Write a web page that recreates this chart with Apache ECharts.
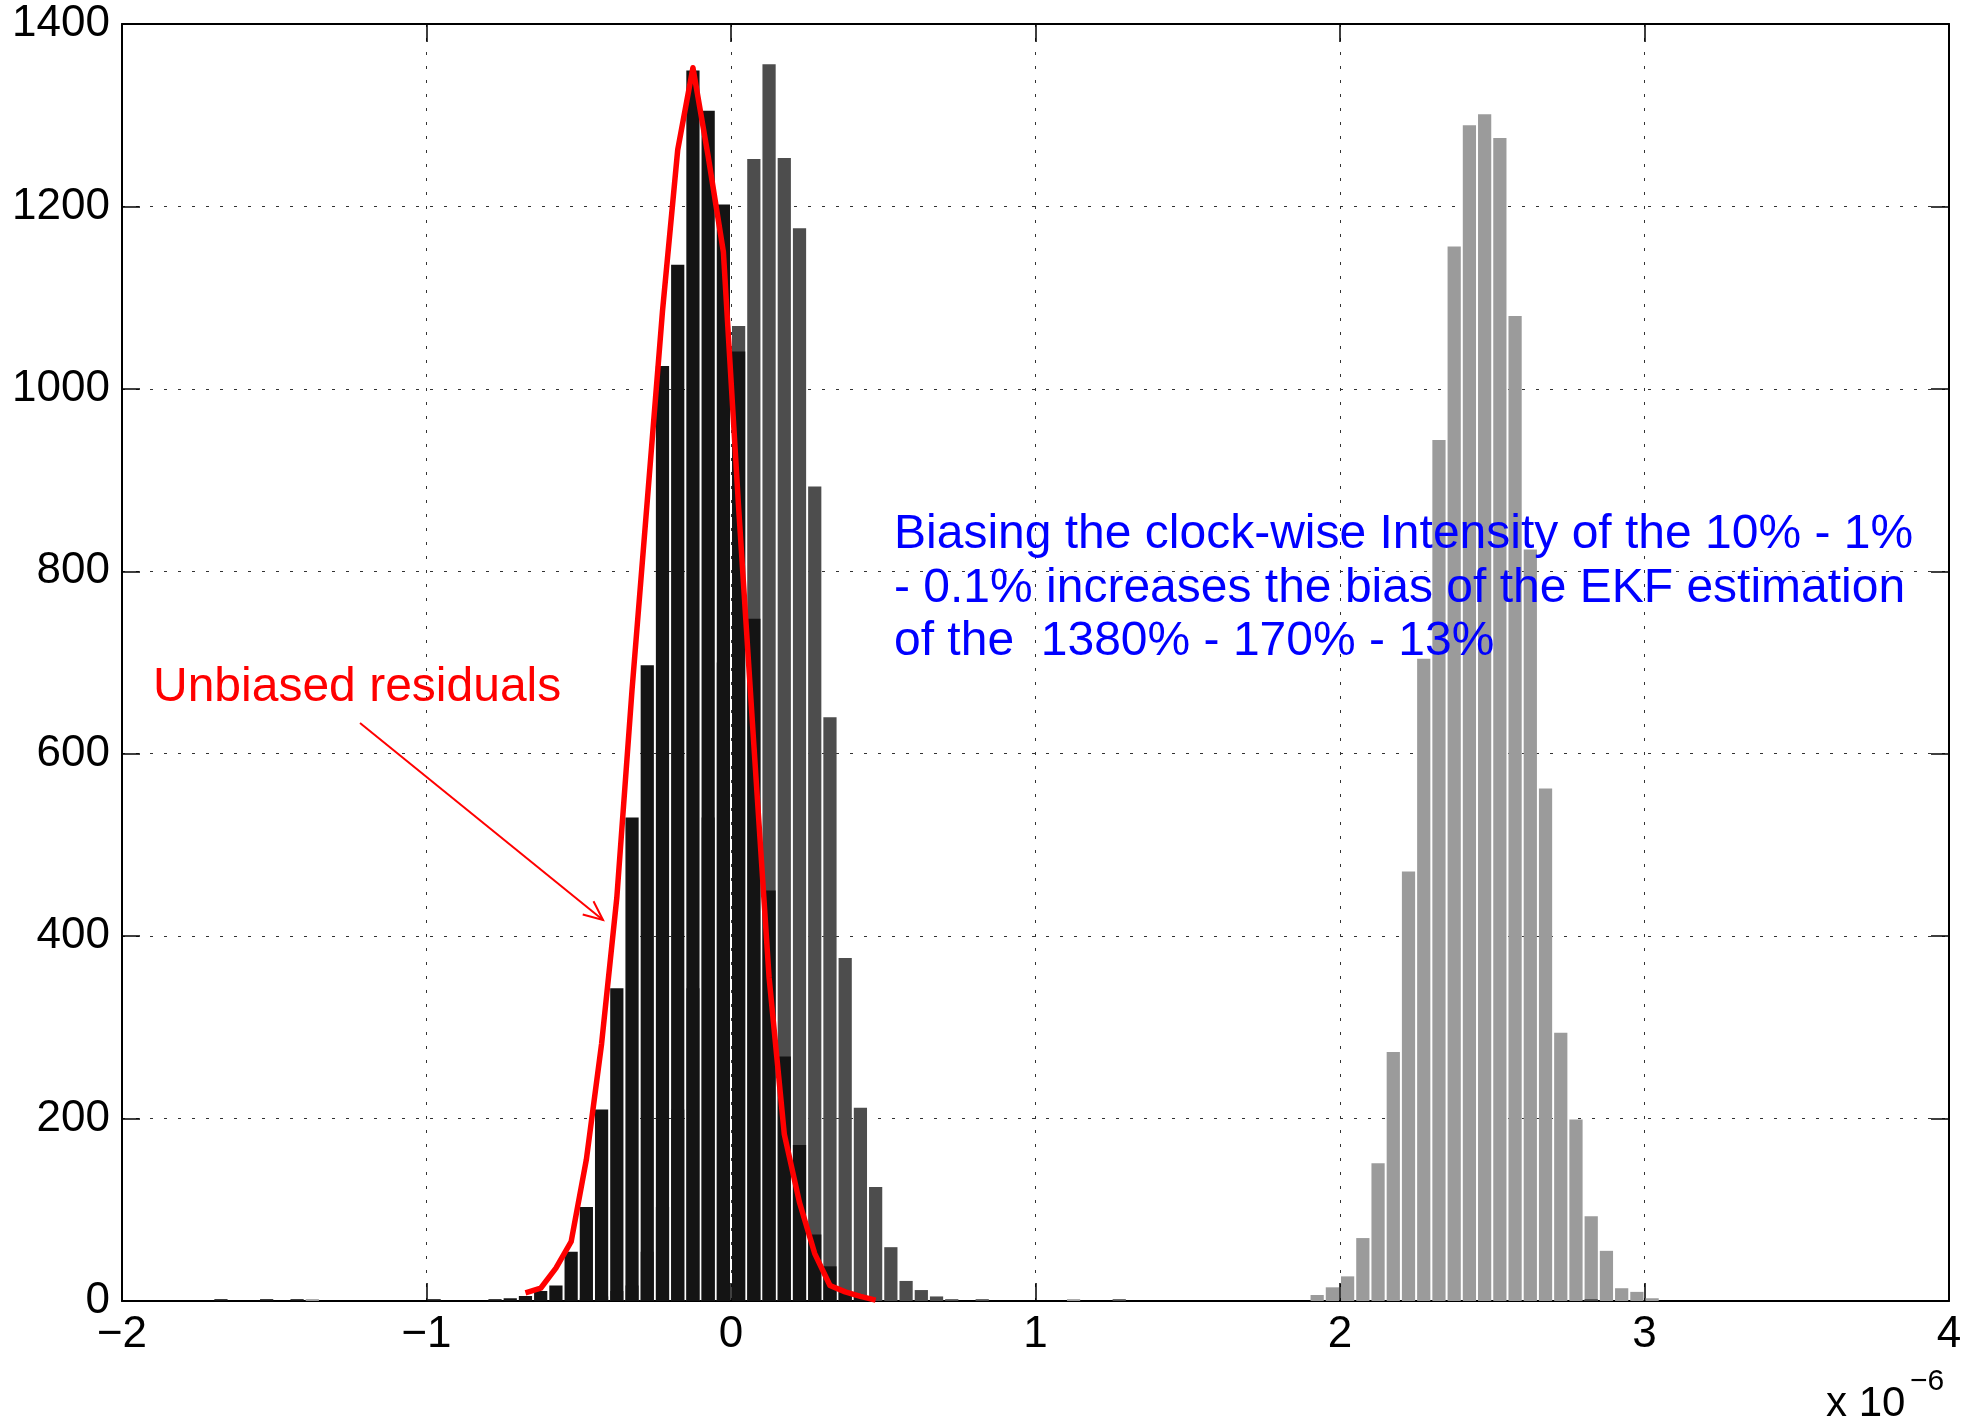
<!DOCTYPE html>
<html>
<head>
<meta charset="utf-8">
<script src="https://cdn.jsdelivr.net/npm/echarts@6/dist/echarts.min.js"></script>
<style>
  html, body { margin: 0; padding: 0; background: #fff; }
  #chart { width: 1968px; height: 1423px; }
</style>
</head>
<body>
<div id="chart"></div>
<script>
// histogram bins, x in units of 1e-6
const binWidth = 0.05

// black: unbiased residuals
const blackCenters = [-1.675, -1.525, -1.425, -0.975, -0.775, -0.725, -0.675, -0.625, -0.575, -0.525, -0.475, -0.425, -0.375,
  -0.325, -0.275, -0.225, -0.175, -0.125, -0.075, -0.025, 0.025, 0.075, 0.125, 0.175, 0.225, 0.275, 0.325, 0.375, 0.425]
const blackCounts = [2, 2, 2, 2, 2, 3, 5.5, 11, 17, 54, 103, 210, 343,
  530, 697, 1025, 1136, 1349, 1305, 1202, 1041, 748, 450, 268, 171, 73, 38, 10, 5]

// dark gray: small bias
const darkCenters = [-0.475, -0.425, -0.375, -0.325, -0.275, -0.225, -0.175, -0.125, -0.075, -0.025, 0.025, 0.075, 0.125,
  0.175, 0.225, 0.275, 0.325, 0.375, 0.425, 0.475, 0.525, 0.575, 0.625, 0.675, 0.725, 0.825, 1.275, 2.825]
const darkCounts = [3, 5, 11, 17, 54, 103, 210, 343, 530, 700, 1069, 1252, 1356,
  1253, 1176, 893, 640, 376, 212, 125, 59, 22, 12, 5, 2, 2, 2, 2]

// light gray: large bias
const lightCenters = [-1.375, 1.125, 1.925, 1.975, 2.025, 2.075, 2.125, 2.175, 2.225, 2.275, 2.325, 2.375, 2.425, 2.475,
  2.525, 2.575, 2.625, 2.675, 2.725, 2.775, 2.825, 2.875, 2.925, 2.975, 3.025]
const lightCounts = [2, 2, 6.6, 15, 27, 69, 151, 273, 471, 704, 944, 1156, 1289, 1301,
  1275, 1080, 824, 562, 294, 199, 93, 55, 14, 10, 3]

// red curve
const redX = [-0.675, -0.625, -0.575, -0.525, -0.475, -0.425, -0.375, -0.325, -0.275, -0.225, -0.175, -0.125,
  -0.075, -0.025, 0.025, 0.075, 0.125, 0.175, 0.225, 0.275, 0.325, 0.375, 0.425, 0.475]
const redY = [9, 14, 36, 65, 155, 282, 442, 670, 877, 1085, 1262, 1352,
  1255, 1150, 870, 610, 355, 183, 108, 52, 17, 10, 5, 1]

const FONT = '"Liberation Sans", Arial, Helvetica, sans-serif'

function pairs(xs, ys) {
  return xs.map((x, i) => [x, ys[i]])
}

function histItem(color) {
  return function (params, api) {
    const x = api.value(0)
    const y = api.value(1)
    const tl = api.coord([x - binWidth / 2, y])
    const br = api.coord([x + binWidth / 2, 0])
    return {
      type: 'rect',
      shape: { x: tl[0] + 1, y: tl[1], width: br[0] - tl[0] - 2, height: br[1] - tl[1] },
      style: { fill: color }
    }
  }
}

const gridLine = { show: true, lineStyle: { color: '#333', width: 1, type: [3, 11] } }
const frame = { show: true, onZero: false, lineStyle: { color: '#000', width: 2 } }
const tick = { show: true, inside: true, length: 18, lineStyle: { color: '#000', width: 1.5 } }
const minus = v => String(v).replace('-', '\u2212')

const myChart = echarts.init(document.getElementById('chart'))

let option = {
  animation: false,
  backgroundColor: '#fff',
  grid: { left: 122, right: 19, top: 24, bottom: 122, outerBoundsMode: 'none' },
  xAxis: [{
    type: 'value', min: -2, max: 4, interval: 1,
    axisLine: frame, axisTick: tick, splitLine: gridLine,
    axisLabel: { color: '#000', fontSize: 44, fontFamily: FONT, margin: 12, formatter: minus }
  }, {
    type: 'value', position: 'top', min: -2, max: 4, interval: 1,
    axisLine: frame, axisTick: tick, splitLine: { show: false }, axisLabel: { show: false }
  }],
  yAxis: [{
    type: 'value', min: 0, max: 1400, interval: 200,
    axisLine: frame, axisTick: tick, splitLine: gridLine,
    axisLabel: { color: '#000', fontSize: 44, fontFamily: FONT, margin: 12, formatter: v => String(v) }
  }, {
    type: 'value', position: 'right', min: 0, max: 1400, interval: 200,
    axisLine: frame, axisTick: tick, splitLine: { show: false }, axisLabel: { show: false }
  }],
  series: [
    { name: 'large bias', type: 'custom', clip: true, z: 2, renderItem: histItem('#9b9b9b'), data: pairs(lightCenters, lightCounts) },
    { name: 'small bias', type: 'custom', clip: true, z: 3, renderItem: histItem('#4d4d4d'), data: pairs(darkCenters, darkCounts) },
    { name: 'unbiased', type: 'custom', clip: true, z: 4, renderItem: histItem('#141414'), data: pairs(blackCenters, blackCounts) },
    {
      name: 'fit', type: 'line', z: 5, symbol: 'none', smooth: false,
      lineStyle: { color: '#ff0000', width: 5.5, join: 'round' },
      data: pairs(redX, redY)
    }
  ]
}
myChart.setOption(option)

// annotations (pixel positions)
const arrowStart = [360, 723]
const arrowTip = [603, 920]
const ang = Math.atan2(arrowTip[1] - arrowStart[1], arrowTip[0] - arrowStart[0])
const headLen = 21, headAng = 0.42
const h1 = [arrowTip[0] - headLen * Math.cos(ang - headAng), arrowTip[1] - headLen * Math.sin(ang - headAng)]
const h2 = [arrowTip[0] - headLen * Math.cos(ang + headAng), arrowTip[1] - headLen * Math.sin(ang + headAng)]

const blueLines = [
  'Biasing the clock-wise Intensity of the 10% - 1%',
  '- 0.1% increases the bias of the EKF estimation',
  'of the  1380% - 170% - 13%'
]

myChart.setOption({
  graphic: [
    ...blueLines.map((t, i) => ({
      type: 'text', x: 894, y: 535 + i * 53.5, z: 100,
      style: { text: t, fill: '#0000ff', font: '48px ' + FONT, verticalAlign: 'middle' }
    })),
    { type: 'text', x: 153, y: 688, z: 100, style: { text: 'Unbiased residuals', fill: '#ff0000', font: '48px ' + FONT, verticalAlign: 'middle' } },
    { type: 'line', z: 100, shape: { x1: arrowStart[0], y1: arrowStart[1], x2: arrowTip[0], y2: arrowTip[1] }, style: { stroke: '#ff0000', lineWidth: 2 } },
    { type: 'polyline', z: 100, shape: { points: [h1, arrowTip, h2] }, style: { stroke: '#ff0000', lineWidth: 2, fill: null } },
    { type: 'text', x: 1826, y: 1404, z: 100, style: { text: 'x 10', fill: '#000', font: '42px ' + FONT, verticalAlign: 'middle' } },
    { type: 'text', x: 1910, y: 1382, z: 100, style: { text: '\u22126', fill: '#000', font: '30px ' + FONT, verticalAlign: 'middle' } }
  ]
})
</script>
</body>
</html>
